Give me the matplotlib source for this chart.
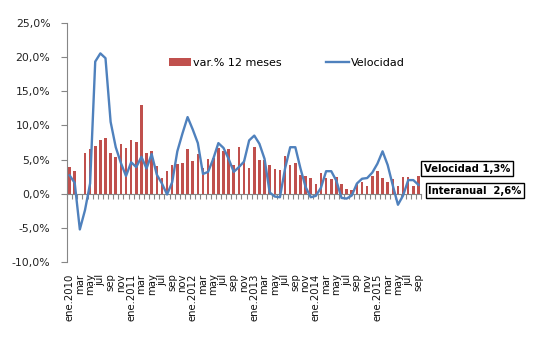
import matplotlib
matplotlib.use("Agg")
import matplotlib.pyplot as plt
import matplotlib.transforms as mtransforms
import numpy as np

months = ["ene", "feb", "mar", "abr", "may", "jun", "jul", "ago", "sep", "oct", "nov", "dic"]
years = [2010, 2011, 2012, 2013, 2014, 2015]
last_month_2015 = 9  # sep

interanual = [3.9, 3.4, 0.0, 6.0, 6.5, 7.0, 7.9, 8.1, 6.0, 5.4, 7.3, 6.7,
              7.9, 7.5, 13.0, 5.9, 6.3, 4.0, 2.3, 3.3, 4.2, 4.4, 4.5, 6.6,
              4.8, 5.75, 3.8, 5.1, 5.2, 6.7, 6.3, 6.5, 4.25, 6.9, 5.0, 3.75,
              6.8, 5.0, 4.9, 4.25, 3.6, 3.5, 5.5, 4.25, 4.5, 2.8, 2.6, 2.3,
              1.4, 3.1, 2.3, 2.2, 2.4, 1.4, 0.7, 0.5, 1.4, 1.7, 1.1, 2.6,
              3.3, 2.3, 1.7, 2.1, 1.1, 2.5, 2.5, 1.1, 2.6]

velocidad = [2.7, 1.6, -5.2, -2.4, 1.5, 19.3, 20.5, 19.8, 10.5, 6.8, 4.5, 2.6,
             4.6, 3.9, 5.4, 3.7, 5.8, 2.8, 1.5, -0.1, 1.7, 6.2, 8.8, 11.2,
             9.4, 7.4, 2.9, 3.2, 5.1, 7.4, 6.7, 5.1, 3.2, 3.9, 4.7, 7.8,
             8.5, 7.3, 5.1, 0.2, -0.4, -0.5, 3.7, 6.8, 6.8, 3.7, 1.0, -0.5,
             -0.3, 0.9, 3.3, 3.3, 1.9, -0.6, -0.7, -0.25, 1.5, 2.2, 2.3, 3.1,
             4.4, 6.2, 4.2, 1.2, -1.6, -0.25, 2.0, 2.0, 1.3]

legend_labels = ["var.% 12 meses", "Velocidad"]
box_texts = ["Velocidad 1,3%", "Interanual  2,6%"]
yticks = [25, 20, 15, 10, 5, 0, -5, -10]

# category labels
cats = []
for y in years:
    for m in range(12):
        if y == 2015 and m >= last_month_2015:
            break
        cats.append(f"{months[m]}.{y}" if m == 0 else months[m])
n = len(cats)
x = np.arange(n)

fig = plt.figure(figsize=(5.43, 3.49), dpi=100)
ax = fig.add_axes([0.1234, 0.2484, 0.652, 0.687])

red = "#C0504D"
blue = "#4F81BD"
axis_gray = "#868686"

bars = ax.bar(x, interanual, width=0.5, color=red, zorder=2, label=legend_labels[0])
line, = ax.plot(x, velocidad, color=blue, lw=1.7, zorder=3, label=legend_labels[1])

ax.set_xlim(-0.5, n - 0.5)
ax.set_ylim(-10, 25)
ax.set_yticks(yticks)
ax.set_yticklabels([f"{v:.1f}%".replace(".", ",") for v in yticks], fontsize=7.8)

for s in ["top", "right"]:
    ax.spines[s].set_visible(False)
ax.spines["left"].set_color(axis_gray)
ax.spines["bottom"].set_color(axis_gray)
ax.spines["bottom"].set_position(("data", 0))
ax.tick_params(axis="y", colors=axis_gray, length=4, pad=8, labelcolor="#222222")
ax.set_xticks(np.arange(n + 1) - 0.5)
ax.set_xticklabels([])
ax.tick_params(axis="x", colors=axis_gray, length=3.5, direction="out")

# category labels at bottom
trans = mtransforms.blended_transform_factory(ax.transData, ax.transAxes)
offset = mtransforms.ScaledTranslation(0, -8 / 72, fig.dpi_scale_trans)
for i in range(0, n, 2):
    ax.text(x[i], 0, cats[i], transform=trans + offset, rotation=90,
            ha="center", va="top", fontsize=7.3, color="#111111")

leg = ax.legend([bars, line], legend_labels, loc="center", bbox_to_anchor=(0.528, 0.82),
                bbox_transform=fig.transFigure, ncol=2, frameon=False, fontsize=8,
                handlelength=2.0, columnspacing=4.0, handletextpad=0.2)

bbox = dict(boxstyle="square,pad=0.25", fc="white", ec="black", lw=1)
fig.text(0.7805, 1 - 168.5 / 349, box_texts[0], fontsize=7.2, fontweight="bold",
         ha="left", va="center", bbox=bbox)
fig.text(0.789, 1 - 190.5 / 349, box_texts[1], fontsize=7.2, fontweight="bold",
         ha="left", va="center", bbox=bbox)

fig.savefig("out.png", dpi=100)
